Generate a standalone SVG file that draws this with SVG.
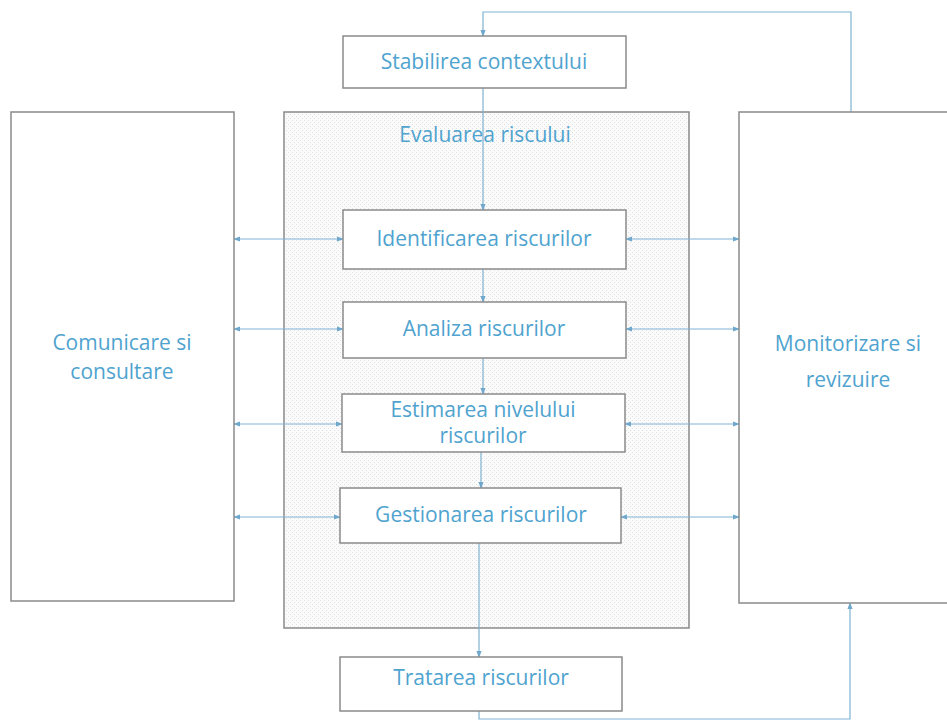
<svg xmlns="http://www.w3.org/2000/svg" width="947" height="723" viewBox="0 0 947 723">
<defs>
<pattern id="dots" width="4" height="4" patternUnits="userSpaceOnUse">
<rect width="4" height="4" fill="#fbfbfb"/>
<rect x="0" y="0" width="1" height="1" fill="#e0e0e0"/>
<rect x="2" y="2" width="1" height="1" fill="#e0e0e0"/>
</pattern>
<marker id="ah" viewBox="0 0 8 8" refX="7" refY="4" markerWidth="7" markerHeight="7" orient="auto-start-reverse" markerUnits="userSpaceOnUse">
<path d="M0,1 L8,4 L0,7 z" fill="#6fa8cc"/>
</marker>
<style>
.box{fill:#fff;stroke:#8a8a8a;stroke-width:1.5}
.t{font-family:"Open Sans","Liberation Sans",sans-serif;font-size:21px;fill:#4fa3cf;text-anchor:middle}
.c{fill:none;stroke:#7fb3d3;stroke-width:1.2}
</style>
</defs>
<rect width="947" height="723" fill="#fff"/>

<g id="evaluarea">
<rect x="284" y="112" width="405" height="516" fill="url(#dots)" stroke="#8a8a8a" stroke-width="1.5"/>
<text class="t" x="485" y="142">Evaluarea riscului</text>
</g>

<g id="connectors">
<polyline class="c" points="851,112 851,12 483,12 483,36" marker-end="url(#ah)"/>
<line class="c" x1="483" y1="88" x2="483" y2="210" marker-end="url(#ah)"/>
<line class="c" x1="483" y1="269" x2="483" y2="302" marker-end="url(#ah)"/>
<line class="c" x1="483" y1="358" x2="483" y2="394" marker-end="url(#ah)"/>
<line class="c" x1="481" y1="452" x2="481" y2="488" marker-end="url(#ah)"/>
<line class="c" x1="479" y1="543" x2="479" y2="657" marker-end="url(#ah)"/>
<polyline class="c" points="479,711 479,719 850,719 850,603" marker-end="url(#ah)"/>
<line class="c" x1="234" y1="239" x2="343" y2="239" marker-start="url(#ah)" marker-end="url(#ah)"/>
<line class="c" x1="626" y1="239" x2="739" y2="239" marker-start="url(#ah)" marker-end="url(#ah)"/>
<line class="c" x1="234" y1="329" x2="343" y2="329" marker-start="url(#ah)" marker-end="url(#ah)"/>
<line class="c" x1="626" y1="329" x2="739" y2="329" marker-start="url(#ah)" marker-end="url(#ah)"/>
<line class="c" x1="234" y1="424" x2="342" y2="424" marker-start="url(#ah)" marker-end="url(#ah)"/>
<line class="c" x1="625" y1="424" x2="739" y2="424" marker-start="url(#ah)" marker-end="url(#ah)"/>
<line class="c" x1="234" y1="517" x2="340" y2="517" marker-start="url(#ah)" marker-end="url(#ah)"/>
<line class="c" x1="621" y1="517" x2="739" y2="517" marker-start="url(#ah)" marker-end="url(#ah)"/>
</g>

<g id="stabilirea">
<rect class="box" x="343" y="36" width="283" height="52"/>
<text class="t" x="484" y="69">Stabilirea contextului</text>
</g>
<g id="comunicare">
<rect class="box" x="11" y="112" width="223" height="489"/>
<text class="t" x="122" y="350">Comunicare si</text>
<text class="t" x="122" y="379">consultare</text>
</g>
<g id="monitorizare">
<rect class="box" x="739" y="112" width="210" height="491"/>
<text class="t" x="848" y="351">Monitorizare si</text>
<text class="t" x="848" y="387">revizuire</text>
</g>
<g id="identificarea">
<rect class="box" x="343" y="210" width="283" height="59"/>
<text class="t" x="484" y="246">Identificarea riscurilor</text>
</g>
<g id="analiza">
<rect class="box" x="343" y="302" width="283" height="56"/>
<text class="t" x="484" y="336">Analiza riscurilor</text>
</g>
<g id="estimarea">
<rect class="box" x="342" y="394" width="283" height="58"/>
<text class="t" x="483" y="417">Estimarea nivelului</text>
<text class="t" x="483" y="443">riscurilor</text>
</g>
<g id="gestionarea">
<rect class="box" x="340" y="488" width="281" height="55"/>
<text class="t" x="481" y="522">Gestionarea riscurilor</text>
</g>
<g id="tratarea">
<rect class="box" x="340" y="657" width="282" height="54"/>
<text class="t" x="481" y="685">Tratarea riscurilor</text>
</g>
</svg>
